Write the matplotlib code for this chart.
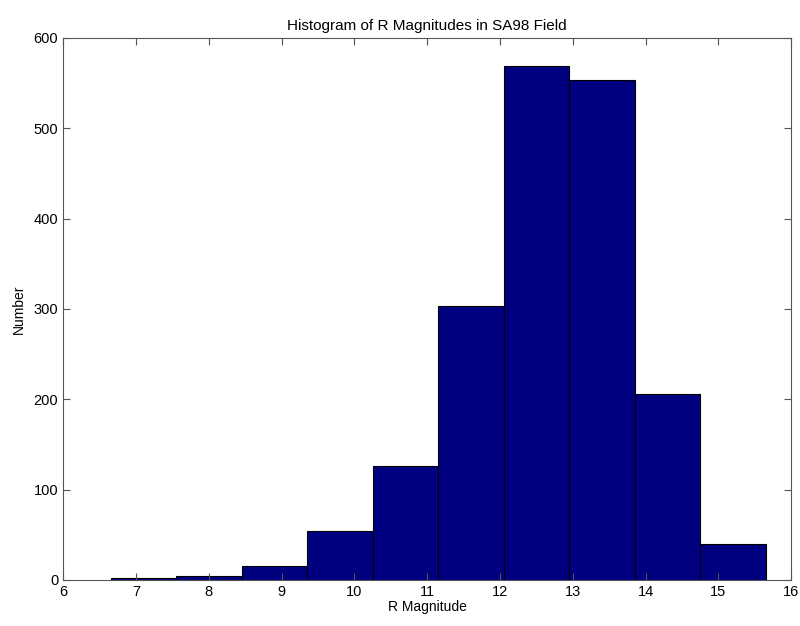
import numpy as np
import matplotlib.pyplot as plt

plt.rcParams['font.family'] = ['Liberation Sans', 'DejaVu Sans']

# histogram bins (R magnitude) and counts
bin_centers = [7.1, 8.0, 8.9, 9.8, 10.7, 11.6, 12.5, 13.4, 14.3, 15.2]
counts = [2, 4, 16, 54, 126, 303, 569, 553, 206, 40]
bin_width = 0.9
xticks = [6, 7, 8, 9, 10, 11, 12, 13, 14, 15, 16]
yticks = [0, 100, 200, 300, 400, 500, 600]

fig = plt.figure(figsize=(8, 6.26), dpi=100)
ax = fig.add_axes([0.079, 0.0735, 0.91, 0.866])

ax.bar(bin_centers, counts, width=bin_width, color='#000080',
       edgecolor='black', linewidth=0.8)

ax.set_xlim(6, 16)
ax.set_ylim(0, 600)
ax.set_xticks(xticks)
ax.set_yticks(yticks)
ax.tick_params(direction='in', top=True, right=True, labelsize=10.5, length=5,
               color='#555555')
for s in ax.spines.values():
    s.set_color('#555555')

ax.set_title('Histogram of R Magnitudes in SA98 Field', fontsize=11, pad=6)
ax.set_xlabel('R Magnitude', fontsize=10, labelpad=1)
ax.set_ylabel('Number', fontsize=10, labelpad=6)

fig.savefig('out.png')
